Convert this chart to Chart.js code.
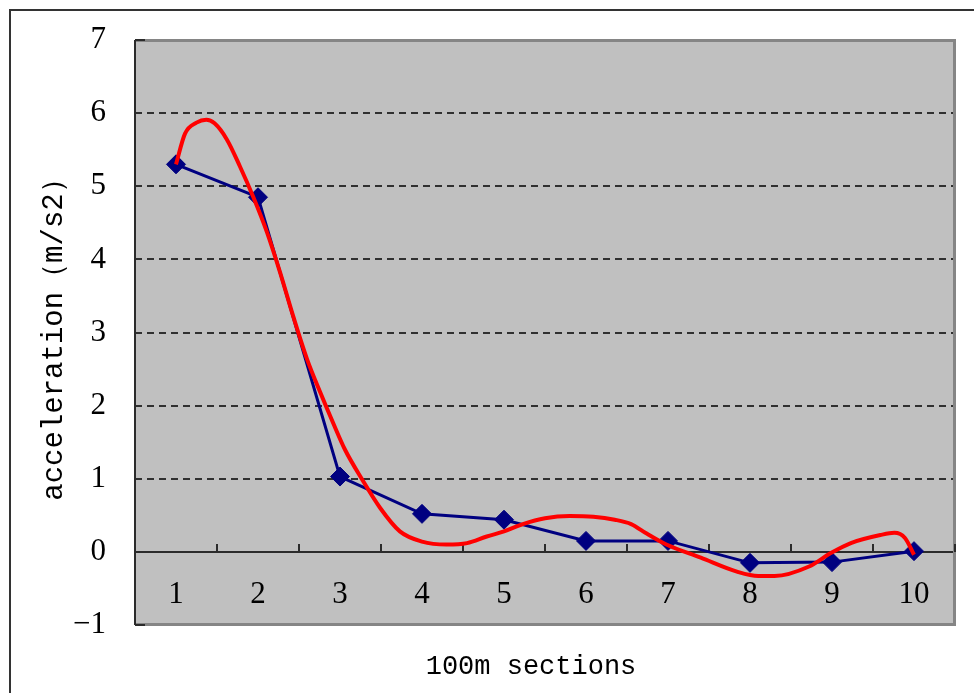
<!DOCTYPE html>
<html>
<head>
<meta charset="utf-8">
<script src="https://cdn.jsdelivr.net/npm/chart.js@4.4.1/dist/chart.umd.min.js"></script>
<style>
  html, body { margin: 0; padding: 0; background: #fff; }
  #wrap { position: relative; width: 974px; height: 693px; overflow: hidden; }
  #frame { position: absolute; left: 9px; top: 9px; width: 1200px; height: 1200px;
           border-left: 2px solid #333; border-top: 2px solid #333; }
  canvas { position: absolute; left: 0; top: 0; }
</style>
</head>
<body>
<div id="wrap">
  <div id="frame"></div>
  <canvas id="accelChart" width="974" height="693"></canvas>
</div>
<script>
// measured acceleration per 100m section
const sections = [1, 2, 3, 4, 5, 6, 7, 8, 9, 10];
const measured = [5.30, 4.85, 1.03, 0.52, 0.44, 0.15, 0.15, -0.15, -0.14, 0.01];

// red trend curve (x in section units)
const trendX = [1.00, 1.11, 1.25, 1.37, 1.47, 1.62, 1.78, 1.94, 2.11, 2.27, 2.43, 2.60, 2.76, 2.91, 3.06,
                3.27, 3.49, 3.73, 4.00, 4.30, 4.55, 4.79, 5.00, 5.23, 5.50, 5.80, 6.09, 6.35, 6.55,
                6.74, 6.98, 7.40, 7.84, 8.10, 8.30, 8.72, 8.98, 9.23, 9.59, 9.76, 9.89, 10.00];
const trendY = [5.30, 5.72, 5.87, 5.91, 5.86, 5.64, 5.27, 4.86, 4.37, 3.82, 3.22, 2.63, 2.18, 1.78, 1.40,
                0.99, 0.60, 0.28, 0.14, 0.10, 0.12, 0.21, 0.28, 0.38, 0.46, 0.49, 0.48, 0.44, 0.38,
                0.25, 0.10, -0.08, -0.27, -0.33, -0.33, -0.20, -0.02, 0.12, 0.23, 0.26, 0.19, -0.04];

const yTicks = [-1, 0, 1, 2, 3, 4, 5, 6, 7];
const xTitle = '100m sections';
const yTitle = 'acceleration（m/s2）';

const plotDecor = {
    id: 'plotDecor',
    beforeDraw(chart) {
        const a = chart.chartArea;
        const ctx = chart.ctx;
        ctx.save();
        ctx.fillStyle = '#c0c0c0';
        ctx.fillRect(a.left, a.top, a.right - a.left, a.bottom - a.top);
        ctx.restore();
    },
    beforeDatasetsDraw(chart) {
        const a = chart.chartArea;
        const ctx = chart.ctx;
        const xs = chart.scales.x;
        const ys = chart.scales.y;
        ctx.save();
        // plot frame
        ctx.strokeStyle = '#858585';
        ctx.lineWidth = 3;
        ctx.beginPath();
        ctx.moveTo(a.left, a.top + 0.5);
        ctx.lineTo(a.right - 0.5, a.top + 0.5);
        ctx.lineTo(a.right - 0.5, a.bottom - 0.5);
        ctx.lineTo(a.left, a.bottom - 0.5);
        ctx.stroke();
        // y axis line and its end ticks
        ctx.strokeStyle = '#2b2b2b';
        ctx.lineWidth = 2;
        ctx.beginPath();
        ctx.moveTo(a.left, a.top);
        ctx.lineTo(a.left, a.bottom);
        [yTicks[0], yTicks[yTicks.length - 1]].forEach(v => {
            const py = ys.getPixelForValue(v);
            ctx.moveTo(a.left, py);
            ctx.lineTo(a.left + 10, py);
        });
        // category boundary ticks on the x axis, pointing up
        const y0 = ys.getPixelForValue(0);
        sections.forEach(s => {
            const px = xs.getPixelForValue(s + 0.5);
            ctx.moveTo(px, y0);
            ctx.lineTo(px, y0 - 8);
        });
        ctx.stroke();
        ctx.restore();
    },
    afterDraw(chart) {
        const a = chart.chartArea;
        const ctx = chart.ctx;
        ctx.save();
        ctx.fillStyle = '#000';
        ctx.font = '27px "Liberation Mono"';
        ctx.textAlign = 'center';
        ctx.textBaseline = 'middle';
        ctx.fillText(xTitle, (a.left + a.right) / 2 - 14, a.bottom + 42);
        ctx.restore();
    }
};

new Chart(document.getElementById('accelChart').getContext('2d'), {
    type: 'line',
    data: {
        datasets: [{
            label: 'trend',
            data: trendX.map((x, i) => ({ x: x, y: trendY[i] })),
            borderColor: '#ff0000',
            borderWidth: 4,
            pointRadius: 0,
            cubicInterpolationMode: 'monotone',
            fill: false
        }, {
            label: 'measured',
            data: sections.map((s, i) => ({ x: s, y: measured[i] })),
            borderColor: '#000080',
            backgroundColor: '#000080',
            borderWidth: 3,
            pointStyle: 'rectRot',
            pointRadius: 9.5,
            pointBorderWidth: 1,
            tension: 0,
            fill: false
        }]
    },
    options: {
        responsive: false,
        animation: false,
        layout: { padding: { left: 0, top: 40, right: 19, bottom: 68 } },
        plugins: {
            legend: { display: false },
            tooltip: { enabled: false }
        },
        scales: {
            x: {
                type: 'linear',
                position: { y: 0 },
                min: 0.5,
                max: 10.5,
                afterBuildTicks: s => { s.ticks = sections.map(v => ({ value: v })); },
                ticks: {
                    color: '#000',
                    padding: 24,
                    maxRotation: 0,
                    font: { family: 'Liberation Serif', size: 31 }
                },
                grid: { display: true, drawOnChartArea: false, drawTicks: false },
                border: { display: true, color: '#2b2b2b', width: 2 }
            },
            y: {
                min: -1,
                max: 7,
                afterBuildTicks: s => { s.ticks = yTicks.map(v => ({ value: v })); },
                afterFit: s => { s.width = 135; },
                ticks: {
                    color: '#000',
                    padding: 0,
                    font: { family: 'Liberation Serif', size: 31 },
                    callback: v => v < 0 ? '\u2212' + Math.abs(v) : String(v)
                },
                grid: {
                    drawTicks: true,
                    tickLength: 29,
                    tickColor: 'rgba(0,0,0,0)',
                    lineWidth: 2,
                    color: c => (c.tick && c.tick.value >= 1 && c.tick.value <= 6) ? '#303030' : 'rgba(0,0,0,0)'
                },
                border: { display: false, dash: [7, 5] },
                title: {
                    display: true,
                    text: yTitle,
                    color: '#000',
                    font: { family: 'Liberation Mono', size: 29 },
                    padding: { top: 37, bottom: 0 }
                }
            }
        }
    },
    plugins: [plotDecor]
});
</script>
</body>
</html>
